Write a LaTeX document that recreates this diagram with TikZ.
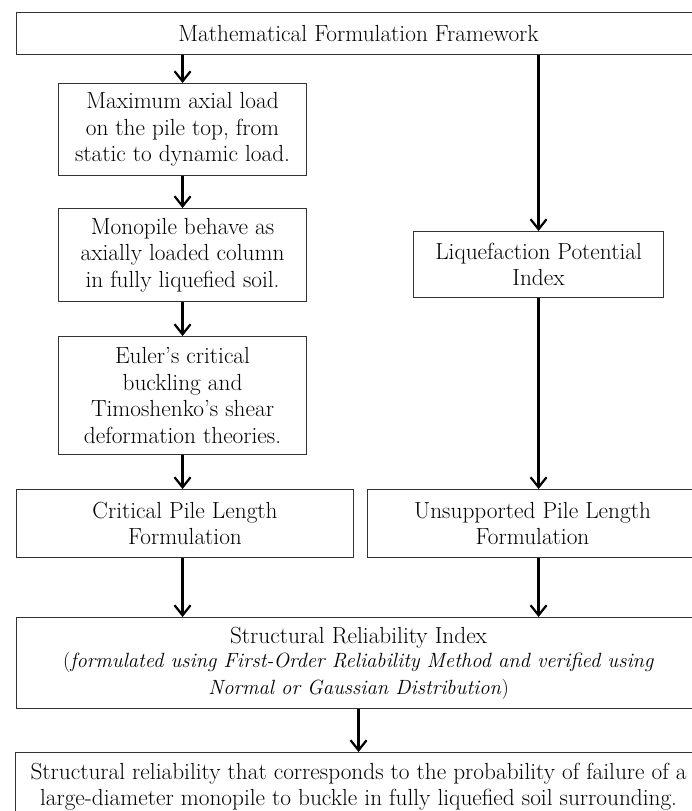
\documentclass[tikz,border=0pt]{standalone}
\usetikzlibrary{arrows.meta}
\newcommand{\itsz}{\fontsize{20.6}{25}\selectfont}
\begin{document}
\begin{tikzpicture}[x=1pt,y=-1pt,
  box/.style={draw=black!80,line width=1.1pt,anchor=north west,inner sep=0pt,align=center,
    font=\fontsize{23.3}{26.5}\selectfont},
  flow/.style={line width=2.2pt,-{Straight Barb[length=10pt,width=16pt,line width=2.2pt]}}]
\useasboundingbox (0,0) rectangle (692,811);
\clip (0,0) rectangle (692,811);
\node[box,minimum width=684pt,minimum height=42pt] (top) at (16,12) {Mathematical Formulation Framework};
\node[box,minimum width=248pt,minimum height=92pt] (b1) at (58,83) {Maximum axial load\\on the pile top, from\\static to dynamic load.};
\node[box,minimum width=248pt,minimum height=93pt] (b2) at (58,208) {Monopile behave as\\axially loaded column\\in fully liquefied soil.};
\node[box,minimum width=248pt,minimum height=118pt] (b3) at (58,336) {Euler's critical\\buckling and\\Timoshenko's shear\\deformation theories.};
\node[box,minimum width=250pt,minimum height=66pt] (liq) at (413,231) {Liquefaction Potential\\Index};
\node[box,minimum width=337pt,minimum height=68pt] (crit) at (16,489) {Critical Pile Length\\Formulation};
\node[box,minimum width=330pt,minimum height=68pt] (unsup) at (367,489) {Unsupported Pile Length\\Formulation};
\node[box,minimum width=684pt,minimum height=91pt] (sri) at (16,617) {Structural Reliability Index\\[-2pt]
  \itsz(\textit{formulated using First-Order Reliability Method and verified using}\\
  \itsz\textit{Normal or Gaussian Distribution})};
\node[box,minimum width=686pt,minimum height=68pt] (fin) at (15,752) {Structural reliability that corresponds to the probability of failure of a\\large-diameter monopile to buckle in fully liquefied soil surrounding.};
\draw[flow] (top.south -| b1.north) -- (b1.north);
\draw[flow] (b1) -- (b2);
\draw[flow] (b2) -- (b3);
\draw[flow] (b3.south) -- (b3.south |- crit.north);
\draw[flow] (top.south -| liq.north) -- (liq.north);
\draw[flow] (liq.south) -- (liq.south |- unsup.north);
\draw[flow] (crit.south -| b3.south) -- (b3.south |- sri.north);
\draw[flow] (unsup.south -| liq.south) -- (liq.south |- sri.north);
\draw[flow] (sri.south -| fin.north) -- (fin.north);
\end{tikzpicture}
\end{document}
